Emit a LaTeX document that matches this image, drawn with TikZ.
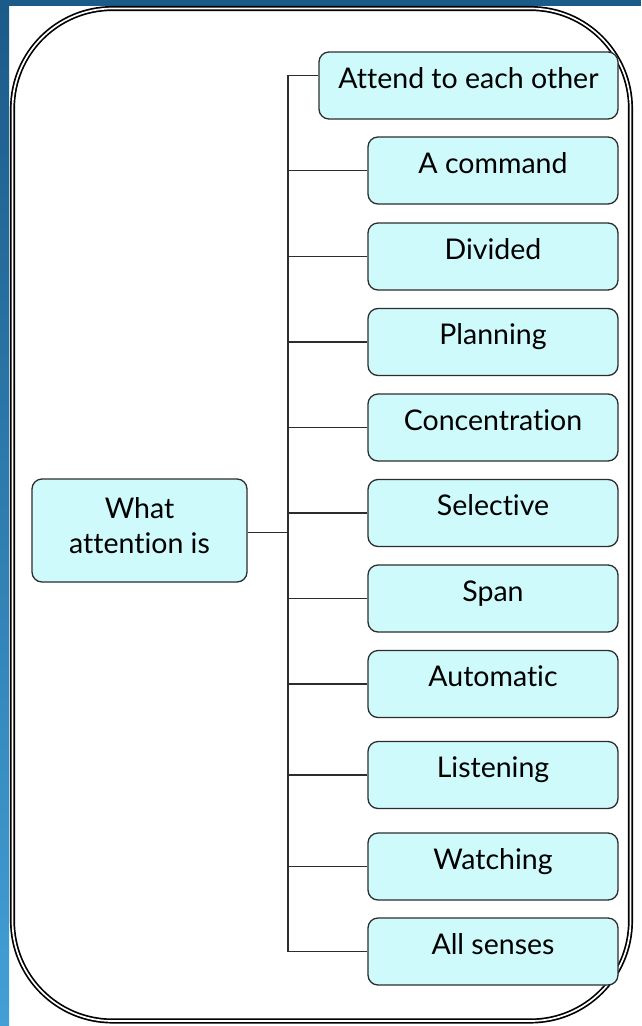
\documentclass[tikz,border=0pt]{standalone}
\usepackage{fontspec}
\setmainfont{Lato}[Ligatures=NoCommon]
\usetikzlibrary{shapes.geometric}
\definecolor{boxfill}{RGB}{206,250,252}
\definecolor{edgegray}{RGB}{45,45,45}
\definecolor{bgdark}{RGB}{27,90,137}
\definecolor{bglight}{RGB}{66,160,214}
\tikzstyle{leaf} = [rectangle, rounded corners=10pt, minimum width=250pt, minimum height=67pt, text height=20pt, text depth=15pt, text centered, draw=edgegray, line width=1.3pt, fill=boxfill, font=\fontsize{28.5}{35}\selectfont]
\tikzstyle{root} = [rectangle, rounded corners=10pt, minimum width=215pt, minimum height=103pt, align=center, text depth=10pt, draw=edgegray, line width=1.3pt, fill=boxfill, font=\fontsize{28.5}{35}\selectfont]
\tikzstyle{link} = [draw=edgegray, line width=1.3pt]

\begin{document}
\begin{tikzpicture}[x=1pt, y=-1pt]
	% page and frame
	\fill[white] (0,0) rectangle (641,1026);
	\shade[top color=bgdark, bottom color=bglight] (0,0) rectangle (9,1026);
	\fill[bgdark] (0,0) rectangle (641,6);
	\draw[line width=1.7pt, double=white, double distance=1.7pt, rounded corners=100pt] (12.5,8.5) rectangle (630.5,1021);

	\node (what) [root] at (139.5,530.5) {What\\attention is};
	\node (attend) [leaf, minimum width=299pt] at (468.5,85.5) {Attend to each other};
	\node (command) [leaf] at (493,170.5) {A command};
	\node (divided) [leaf] at (493,256.5) {Divided};
	\node (planning) [leaf] at (493,342) {Planning};
	\node (concentration) [leaf] at (493,427.5) {Concentration};
	\node (selective) [leaf] at (493,513) {Selective};
	\node (span) [leaf] at (493,598.5) {Span};
	\node (automatic) [leaf] at (493,684) {Automatic};
	\node (listening) [leaf] at (493,775) {Listening};
	\node (watching) [leaf] at (493,866.5) {Watching};
	\node (senses) [leaf] at (493,951.5) {All senses};
	\coordinate (hub) at (288,532.5);

	\draw [link] ([yshift=10pt]attend.west) -| (senses.west -| hub) -- (senses.west);
	\draw [link] (what.east |- hub) -- (hub);
	\foreach \n in {command, divided, planning, concentration, selective, span, automatic, listening, watching}
		\draw [link] (\n.west) -- (\n.west -| hub);
\end{tikzpicture}
\end{document}
